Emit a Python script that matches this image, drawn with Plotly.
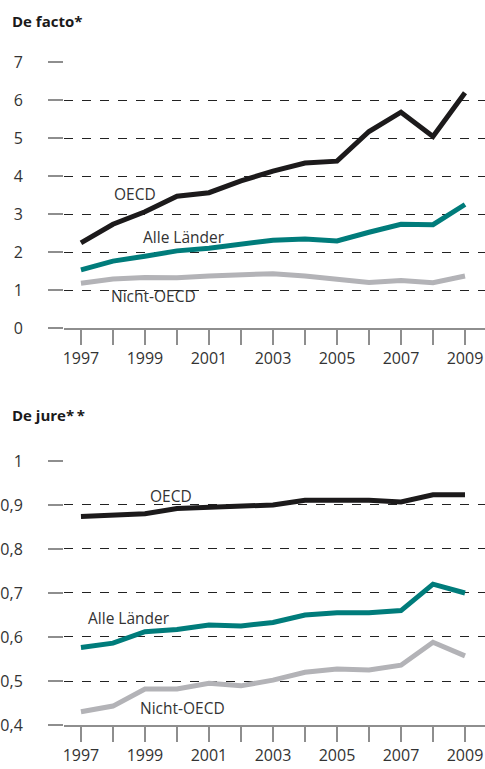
import plotly.graph_objects as go

years = list(range(1997, 2010))

# De facto
facto_oecd = [2.24, 2.73, 3.06, 3.47, 3.56, 3.87, 4.13, 4.34, 4.39, 5.17, 5.68, 5.04, 6.19]
facto_alle = [1.53, 1.76, 1.89, 2.03, 2.10, 2.21, 2.31, 2.34, 2.29, 2.52, 2.73, 2.72, 3.25]
facto_nicht = [1.18, 1.29, 1.33, 1.32, 1.37, 1.40, 1.43, 1.37, 1.28, 1.20, 1.25, 1.19, 1.37]

# De jure
jure_oecd = [0.874, 0.877, 0.880, 0.892, 0.895, 0.896, 0.900, 0.911, 0.911, 0.911, 0.907, 0.923, 0.923]
jure_alle = [0.576, 0.586, 0.612, 0.617, 0.627, 0.625, 0.633, 0.650, 0.655, 0.655, 0.660, 0.720, 0.700]
jure_nicht = [0.430, 0.443, 0.482, 0.482, 0.495, 0.489, 0.502, 0.520, 0.527, 0.525, 0.536, 0.588, 0.557]

facto_ticks = [0, 1, 2, 3, 4, 5, 6, 7]
jure_ticks = [0.4, 0.5, 0.6, 0.7, 0.8, 0.9, 1.0]
jure_ticktext = ["0,4", "0,5", "0,6", "0,7", "0,8", "0,9", "1"]
year_ticktext = [str(y) if (y - 1997) % 2 == 0 else "" for y in years]

C_OECD = "#1c1a1b"
C_ALLE = "#007c7b"
C_NICHT = "#b3b3b7"
GRAY = "#8e8e8e"
FONT = "Open Sans"

fig = go.Figure()

def add(x, y, color, xa, ya):
    fig.add_trace(go.Scatter(x=x, y=y, mode="lines", line=dict(color=color, width=5),
                             xaxis=xa, yaxis=ya, showlegend=False, hoverinfo="skip"))

add(years, facto_nicht, C_NICHT, "x", "y")
add(years, facto_alle, C_ALLE, "x", "y")
add(years, facto_oecd, C_OECD, "x", "y")
add(years, jure_nicht, C_NICHT, "x2", "y2")
add(years, jure_alle, C_ALLE, "x2", "y2")
add(years, jure_oecd, C_OECD, "x2", "y2")

xrange = [1996.47, 2009.625]
xcommon = dict(range=xrange, tickvals=years, ticktext=year_ticktext, ticks="outside",
               ticklen=15, tickwidth=2, tickcolor=GRAY, showgrid=False, zeroline=False,
               showline=True, linecolor=GRAY, linewidth=2,
               tickfont=dict(family=FONT, size=16, color="#333333"), fixedrange=True)
ycommon = dict(ticks="outside", ticklen=15, tickwidth=2, tickcolor=GRAY,
               showgrid=True, gridcolor="#222222", griddash="dash", gridwidth=1,
               zeroline=False, showline=False, ticklabelstandoff=22,
               tickfont=dict(family=FONT, size=16, color="#333333"), fixedrange=True)

fig.update_layout(
    width=485, height=769,
    margin=dict(l=64, r=0, t=62, b=44),
    paper_bgcolor="white", plot_bgcolor="white",
    xaxis=dict(domain=[0, 1], anchor="y", **xcommon),
    yaxis=dict(domain=[0.5988, 1], range=[0, 7], tickvals=facto_ticks, anchor="x", **ycommon),
    xaxis2=dict(domain=[0, 1], anchor="y2", **xcommon),
    yaxis2=dict(domain=[0, 0.3982], range=[0.4, 1.0], tickvals=jure_ticks,
                ticktext=jure_ticktext, anchor="x2", **ycommon),
)

lab_font = dict(family=FONT, size=15.5, color="#333333")
labels = [
    ("x", "y", 1998.68, 3.52, "OECD"),
    ("x", "y", 2000.22, 2.40, "Alle Länder"),
    ("x", "y", 1999.28, 0.85, "Nicht-OECD"),
    ("x2", "y2", 1999.80, 0.921, "OECD"),
    ("x2", "y2", 1998.50, 0.644, "Alle Länder"),
    ("x2", "y2", 2000.16, 0.439, "Nicht-OECD"),
]
for xa, ya, x, y, t in labels:
    fig.add_annotation(x=x, y=y, xref=xa, yref=ya, text=t, showarrow=False,
                       font=lab_font, xanchor="center", yanchor="middle")

def px(x):
    return (x - 64) / 421

def py(y):
    return (725 - y) / 663

title_font = dict(family=FONT, size=15, color="#1a1a1a")
fig.add_annotation(x=px(10), y=py(21), xref="paper", yref="paper",
                   text="<b>De facto*</b>", showarrow=False, font=title_font,
                   xanchor="left", yanchor="middle")
fig.add_annotation(x=px(10), y=py(415), xref="paper", yref="paper",
                   text="<b>De jure*\u2009*</b>", showarrow=False, font=title_font,
                   xanchor="left", yanchor="middle")

fig.write_html(
    "out.html",
    config={"displayModeBar": False, "staticPlot": True},
    post_script="document.body.style.margin='0';document.body.style.overflow='hidden';",
)
